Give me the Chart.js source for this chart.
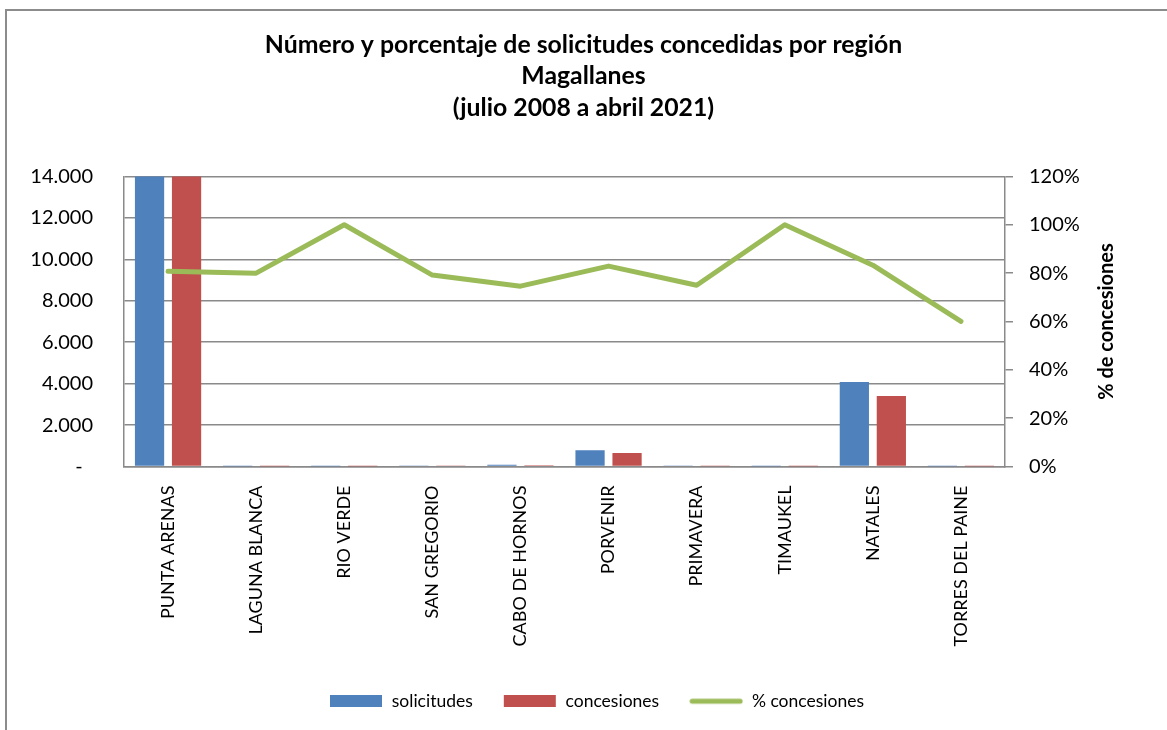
<!DOCTYPE html>
<html>
<head>
<meta charset="utf-8">
<script src="https://cdn.jsdelivr.net/npm/chart.js@4"></script>
<style>
  body { margin: 0; background: #fff; }
  #wrap { position: relative; width: 1167px; height: 730px; overflow: hidden; }
  #frame { position: absolute; left: 5px; top: 9px; width: 1300px; height: 900px;
           border-left: 2px solid #8c8c8c; border-top: 2px solid #8c8c8c; }
  canvas { position: absolute; left: 0; top: 0; }
</style>
</head>
<body>
<div id="wrap">
  <div id="frame"></div>
  <canvas id="chart" width="1167" height="730"></canvas>
</div>
<script>
const regions = ["PUNTA ARENAS", "LAGUNA BLANCA", "RIO VERDE", "SAN GREGORIO", "CABO DE HORNOS",
  "PORVENIR", "PRIMAVERA", "TIMAUKEL", "NATALES", "TORRES DEL PAINE"];
const solicitudes = [17500, 5, 3, 24, 80, 790, 20, 2, 4080, 5];
const concesiones = [14140, 4, 3, 19, 60, 655, 15, 2, 3400, 3];
const pctConcesiones = [80.8, 80, 100, 79.2, 74.6, 82.9, 75, 100, 83.3, 60];
const leftTicks = [0, 2000, 4000, 6000, 8000, 10000, 12000, 14000];
const rightTicks = [0, 20, 40, 60, 80, 100, 120];

const BLUE = "#4F81BD";
const RED = "#C0504D";
const GREEN = "#9BBB59";
const GRID = "#8a8a8a";
const FONT = "Lato, 'Noto Sans', sans-serif";

// little images for the legend keys (a bit wider than the box so text sits further off)
function keyImage(color, isLine) {
  const c = document.createElement("canvas");
  c.width = 54; c.height = 12;
  const g = c.getContext("2d");
  if (isLine) {
    g.strokeStyle = color;
    g.lineWidth = 5;
    g.lineCap = "round";
    g.beginPath();
    g.moveTo(3, 6);
    g.lineTo(51, 6);
    g.stroke();
  } else {
    g.fillStyle = color;
    g.fillRect(1, 0, 52, 12);
  }
  return c;
}
const keys = [keyImage(BLUE), keyImage(RED), keyImage(GREEN, true)];

function thousands(v) {
  if (v === 0) return "-  ";
  return String(v).replace(/\B(?=(\d{3})+(?!\d))/g, ".");
}

// right axis title, reading bottom to top
const rightTitle = {
  id: "rightTitle",
  afterDraw(chart) {
    const a = chart.chartArea;
    const ctx = chart.ctx;
    ctx.save();
    ctx.translate(1107, (a.top + a.bottom) / 2);
    ctx.rotate(-Math.PI / 2);
    ctx.font = "bold 20px " + FONT;
    ctx.fillStyle = "#000";
    ctx.textAlign = "center";
    ctx.textBaseline = "middle";
    ctx.fillText("% de concesiones", 0, 0);
    ctx.restore();
  }
};

// the legend sits a little right of centre in the original
const legendShift = {
  id: "legendShift",
  afterLayout(chart) {
    if (chart.legend) chart.legend.left += 26;
  }
};

new Chart(document.getElementById("chart"), {
  type: "bar",
  data: {
    labels: regions,
    datasets: [
      { label: "solicitudes", data: solicitudes, backgroundColor: BLUE, yAxisID: "y",
        categoryPercentage: 0.84, barPercentage: 0.79, order: 1 },
      { label: "concesiones", data: concesiones, backgroundColor: RED, yAxisID: "y",
        categoryPercentage: 0.84, barPercentage: 0.79, order: 1 },
      { label: "% concesiones", type: "line", data: pctConcesiones, yAxisID: "y2",
        borderColor: GREEN, backgroundColor: GREEN, borderWidth: 5, pointRadius: 0,
        tension: 0, borderCapStyle: "round", borderJoinStyle: "round", order: 0 }
    ]
  },
  options: {
    responsive: false,
    animation: false,
    layout: { padding: { left: 0, right: 0, top: 0, bottom: 10 } },
    plugins: {
      tooltip: { enabled: false },
      title: {
        display: true,
        text: ["Número y porcentaje de solicitudes concedidas por región", "Magallanes", "(julio 2008 a abril 2021)"],
        color: "#000",
        font: { family: FONT, size: 24.8, weight: "bold", lineHeight: 1.26 },
        padding: { top: 29.4, bottom: 53.3 }
      },
      legend: {
        position: "bottom",
        labels: {
          usePointStyle: true,
          pointStyleWidth: 54,
          boxHeight: 12,
          padding: 30,
          color: "#000",
          font: { family: FONT, size: 17.5 },
          generateLabels(chart) {
            return chart.data.datasets.map((ds, i) => ({
              text: ds.label,
              datasetIndex: i,
              pointStyle: keys[i],
              fillStyle: ds.backgroundColor,
              strokeStyle: ds.backgroundColor,
              lineWidth: 0,
              fontColor: "#000",
              hidden: false
            }));
          }
        }
      }
    },
    scales: {
      x: {
        grid: { display: false },
        border: { display: true, color: GRID, width: 1.5 },
        ticks: { maxRotation: 90, minRotation: 90, padding: 11, color: "#000",
                 font: { family: FONT, size: 18 } },
        afterFit(scale) { scale.height = 196; }
      },
      y: {
        position: "left",
        min: 0, max: 14000,
        afterBuildTicks(scale) { scale.ticks = leftTicks.map(v => ({ value: v })); },
        ticks: { padding: 31, color: "#000", font: { family: FONT, size: 20 },
                 callback: (v) => thousands(v) },
        grid: { color: GRID, lineWidth: 1.5, drawTicks: false },
        border: { display: true, color: GRID, width: 1.5 },
        afterFit(scale) { scale.width = 124; }
      },
      y2: {
        position: "right",
        min: 0, max: 120,
        afterBuildTicks(scale) { scale.ticks = rightTicks.map(v => ({ value: v })); },
        ticks: { padding: 16, color: "#000", font: { family: FONT, size: 20 },
                 callback: (v) => v + "%" },
        grid: { drawOnChartArea: false, drawTicks: true, tickLength: 8, color: GRID, lineWidth: 1.5 },
        border: { display: true, color: GRID, width: 1.5 },
        afterFit(scale) { scale.width = 162; }
      }
    }
  },
  plugins: [rightTitle, legendShift]
});
</script>
</body>
</html>
